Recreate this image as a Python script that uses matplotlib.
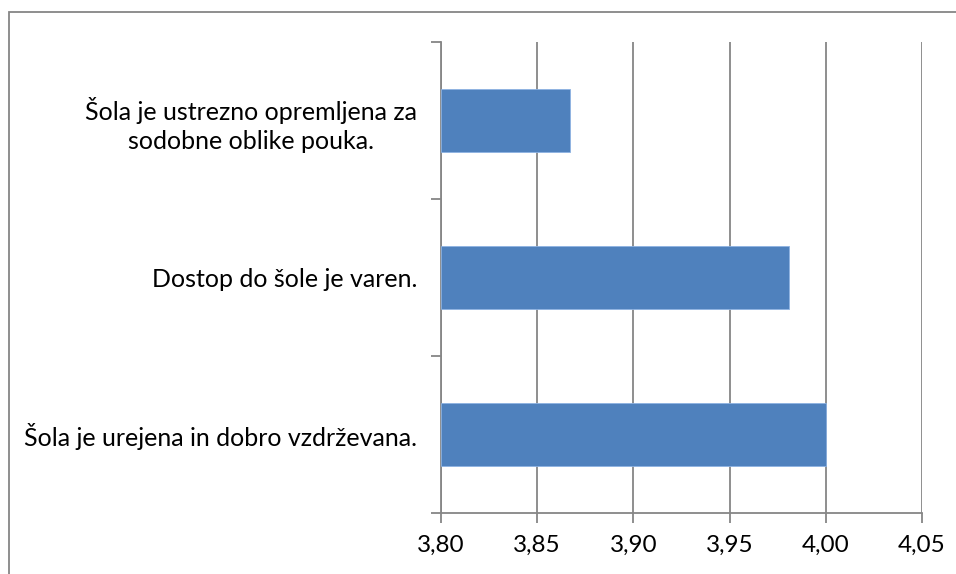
import matplotlib.pyplot as plt
from matplotlib.patches import Rectangle

# Podatki (od spodaj navzgor)
trditve = [
    "Šola je urejena in dobro vzdrževana.",
    "Dostop do šole je varen.",
    "Šola je ustrezno opremljena za\nsodobne oblike pouka.",
]
povprecja = [4.00, 3.981, 3.867]
oznake_x = ["3,80", "3,85", "3,90", "3,95", "4,00", "4,05"]
vrednosti_x = [3.80, 3.85, 3.90, 3.95, 4.00, 4.05]

plt.rcParams['font.family'] = ['Lato', 'DejaVu Sans']
siva = "#868686"

fig = plt.figure(figsize=(9.56, 5.74), dpi=100)
W, H = 956, 574
ax = fig.add_axes([441 / W, 1 - 513 / H, (922 - 441) / W, (513 - 42) / H])

# okvir okrog grafa
fig.patches.append(Rectangle((9 / W, -0.05), 1.2, 1 - 12 / H + 0.05,
                             transform=fig.transFigure, fill=False,
                             edgecolor=siva, linewidth=1.3))

pozicije = range(len(trditve))
ax.barh(pozicije, [v - 3.80 for v in povprecja], left=3.80, height=0.4,
        color="#4f81bd", edgecolor="#8db3e2", linewidth=0.6, zorder=3)

ax.set_xlim(3.80, 4.05)
ax.set_ylim(-0.5, 2.5)
ax.set_xticks(vrednosti_x)
ax.set_xticklabels(oznake_x, fontsize=17.5)
ax.set_yticks([-0.5, 0.5, 1.5, 2.5], minor=False)
ax.set_yticklabels([])
ax.set_yticks(list(pozicije), minor=True)
ax.set_yticklabels(trditve, minor=True, fontsize=18, multialignment='center',
                   linespacing=1.3)
ax.tick_params(axis='y', which='minor', length=0, pad=17)
ax.tick_params(axis='y', which='major', length=7, color=siva, width=1.3)
ax.tick_params(axis='x', length=7, color=siva, width=1.3, pad=9)

ax.grid(axis='x', color=siva, linewidth=1.3, zorder=0)
for s in ['top', 'right']:
    ax.spines[s].set_visible(False)
for s in ['left', 'bottom']:
    ax.spines[s].set_color(siva)
    ax.spines[s].set_linewidth(1.3)

fig.savefig("out.png", dpi=100)
